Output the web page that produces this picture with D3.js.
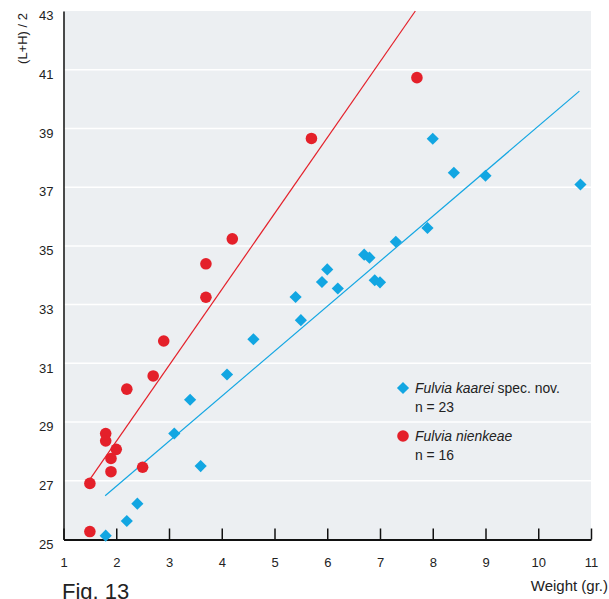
<!DOCTYPE html>
<html>
<head>
<meta charset="utf-8">
<script src="https://d3js.org/d3.v7.min.js"></script>
<style>
    body { margin: 0; background: #fff; }
    svg { display: block; font-family: "Liberation Sans", Arial, sans-serif; }
    .grid line { stroke: #fff; stroke-width: 1.5px; }
    .tick text { fill: #222; font-size: 13px; }
</style>
</head>
<body>
<svg width="609" height="599"></svg>
<script>
    // Fulvia kaarei spec. nov. (blue diamonds), n = 23
    const kaareiWeight = [1.8, 2.2, 2.4, 3.1, 3.4, 3.6, 4.1, 4.6, 5.4, 5.5, 5.9, 6.0, 6.2,
        6.7, 6.8, 6.9, 7.0, 7.3, 7.9, 8.0, 8.4, 9.0, 10.8];
    const kaareiSize = [25.13, 25.63, 26.22, 28.61, 29.76, 27.5, 30.62, 31.82, 33.26, 32.47, 33.77, 34.2, 33.55,
        34.7, 34.6, 33.83, 33.76, 35.14, 35.61, 38.65, 37.49, 37.39, 37.09];

    // Fulvia nienkeae (red circles), n = 16
    const nienkeaeWeight = [1.5, 1.5, 1.8, 1.8, 1.9, 1.9, 2.0, 2.2, 2.5, 2.7, 2.9, 3.7, 3.7, 4.2, 5.7, 7.7];
    const nienkeaeSize = [26.91, 25.27, 28.61, 28.36, 27.76, 27.31, 28.07, 30.12, 27.46, 30.57, 31.76,
        33.25, 34.39, 35.24, 38.66, 40.73];

    // fitted lines, [weight, size] end points
    const kaareiFit = [[1.79, 26.49], [10.78, 40.27]];
    const nienkeaeFit = [[1.5, 27.05], [7.67, 43]];

    const xTicks = [1, 2, 3, 4, 5, 6, 7, 8, 9, 10, 11];
    const yTicks = [25, 27, 29, 31, 33, 35, 37, 39, 41, 43];

    const blue = "#12a6e2";
    const red = "#e4202a";

    const svg = d3.select("svg");
    const x = d3.scaleLinear().domain([1, 11]).range([63.5, 591]);
    const y = d3.scaleLinear().domain([25, 43]).range([539.5, 11]);

    // plot background
    svg.append("rect")
        .attr("x", x(1)).attr("y", y(43))
        .attr("width", x(11) - x(1)).attr("height", y(25) - y(43))
        .attr("fill", "#eceff2");

    // horizontal grid
    svg.append("g").attr("class", "grid")
        .selectAll("line")
        .data(yTicks.filter(d => d > 25 && d < 43))
        .join("line")
        .attr("x1", x(1)).attr("x2", x(11))
        .attr("y1", d => y(d)).attr("y2", d => y(d));

    // regression lines
    const line = d3.line().x(d => x(d[0])).y(d => y(d[1]));
    svg.append("path").attr("d", line(nienkeaeFit))
        .attr("fill", "none").attr("stroke", red).attr("stroke-width", 1.2);
    svg.append("path").attr("d", line(kaareiFit))
        .attr("fill", "none").attr("stroke", blue).attr("stroke-width", 1.2);

    // axes
    const yAxis = svg.append("g")
        .attr("transform", `translate(${x(1)},0)`)
        .call(d3.axisLeft(y).tickValues(yTicks).tickSize(0).tickPadding(10).tickFormat(d3.format("d")));
    yAxis.select(".domain").attr("stroke", "#111").attr("stroke-width", 1.5);
    yAxis.selectAll(".tick text").attr("dy", "0.67em");

    const xAxis = svg.append("g")
        .attr("transform", `translate(0,${y(25)})`)
        .call(d3.axisBottom(x).tickValues(xTicks).tickSizeInner(-11).tickSizeOuter(0)
            .tickPadding(18).tickFormat(d3.format("d")));
    xAxis.select(".domain").attr("stroke", "#111").attr("stroke-width", 2.2);
    xAxis.selectAll(".tick line").attr("stroke", "#111").attr("stroke-width", 1.5);

    // data points
    const diamond = d3.symbol().type(d3.symbolSquare).size(74);
    svg.append("g")
        .selectAll("path")
        .data(d3.range(kaareiWeight.length))
        .join("path")
        .attr("d", diamond)
        .attr("transform", i => `translate(${x(kaareiWeight[i])},${y(kaareiSize[i])}) rotate(45)`)
        .attr("fill", blue);

    svg.append("g")
        .selectAll("circle")
        .data(d3.range(nienkeaeWeight.length))
        .join("circle")
        .attr("cx", i => x(nienkeaeWeight[i]))
        .attr("cy", i => y(nienkeaeSize[i]))
        .attr("r", 5.8)
        .attr("fill", red);

    // legend
    const legend = svg.append("g").attr("font-size", "13.9px").attr("fill", "#222");
    legend.append("path").attr("d", diamond)
        .attr("transform", "translate(403,388) rotate(45)").attr("fill", blue);
    const t1 = legend.append("text").attr("x", 415).attr("y", 393);
    t1.append("tspan").attr("font-style", "italic").text("Fulvia kaarei");
    t1.append("tspan").text(" spec. nov.");
    legend.append("text").attr("x", 415).attr("y", 412).text("n = 23");
    legend.append("circle").attr("cx", 403).attr("cy", 436).attr("r", 5.8).attr("fill", red);
    legend.append("text").attr("x", 415).attr("y", 441).attr("font-style", "italic").text("Fulvia nienkeae");
    legend.append("text").attr("x", 415).attr("y", 460).text("n = 16");

    // axis titles
    svg.append("text")
        .attr("transform", "translate(27,13) rotate(-90)")
        .attr("text-anchor", "end")
        .attr("font-size", "13px").attr("fill", "#222")
        .text("(L+H) / 2");
    svg.append("text")
        .attr("x", 608).attr("y", 591)
        .attr("text-anchor", "end")
        .attr("font-size", "15px").attr("fill", "#222")
        .text("Weight (gr.)");

    // figure caption, cut by the bottom edge as in the source
    svg.append("text")
        .attr("x", 62).attr("y", 599)
        .attr("font-size", "22px").attr("fill", "#222")
        .text("Fig. 13");
</script>
</body>
</html>
